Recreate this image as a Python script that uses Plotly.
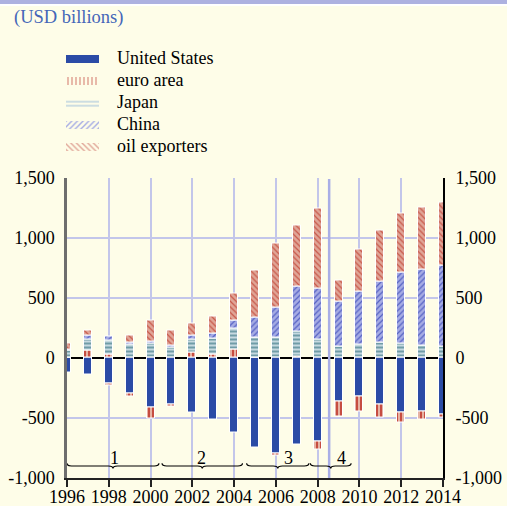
import plotly.graph_objects as go

# ---------------- data ----------------
years = list(range(1996, 2015))
series_names = ["United States", "euro area", "Japan", "China", "oil exporters"]

us = [-123, -138, -215, -298, -415, -392, -457, -515, -623, -743, -798, -721, -698, -362, -318, -388, -454, -446, -471]
euro = [0, 57, 30, -25, -90, -15, 43, 27, 71, 5, -12, 12, -67, -125, -128, -110, -81, -66, -22]
japan = [64, 95, 112, 110, 118, 86, 111, 133, 172, 168, 168, 211, 154, 96, 107, 127, 121, 104, 90]
china = [7, 33, 33, 15, 20, 17, 33, 42, 70, 162, 250, 373, 423, 369, 441, 505, 589, 634, 681]
oil = [49, 42, -15, 57, 172, 127, 98, 144, 222, 394, 534, 502, 666, 175, 354, 431, 488, 510, 522]

x_tickvals = [1996, 1998, 2000, 2002, 2004, 2006, 2008, 2010, 2012, 2014]
x_ticktext = ["1996", "1998", "2000", "2002", "2004", "2006", "2008", "2010", "2012", "2014"]
y_tickvals = [-1000, -500, 0, 500, 1000, 1500]
y_ticktext = ["-1,000", "-500", "0", "500", "1,000", "1,500"]

period_labels = ["1", "2", "3", "4"]
period_start = [1996.0, 2000.55, 2004.6, 2007.65]
period_end = [2000.4, 2004.4, 2007.58, 2009.6]
period_label_x = [1998.25, 2002.45, 2006.6, 2009.15]
crisis_marker = 2008.55

# ---------------- styles ----------------
FONT = "Liberation Serif"
BG = "#FEFDE8"
GRID = "#C3C6EA"
fills = ["#2B4BA6", "#E6B2A2", "#C6D9E0", "#A6ACE4", "#E0A597"]
strokes = ["#2B4BA6", "#BE3328", "#5A8C98", "#5562C4", "#C8584A"]
shapes_p = ["", "|", "-", "/", "\\"]
solid = [0.3, 0.4, 0.4, 0.3, 0.3]
legend_solid = [0.3, 0.45, 0.45, 0.35, 0.35]
series = [us, euro, japan, china, oil]

W, H = 507, 506
ML, MR, MT, MB = 10, 64, 5, 28
PW, PH = W - ML - MR, H - MT - MB


def px(x):
    return (x - ML) / PW


def py(y):
    return (H - MB - y) / PH


fig = go.Figure()

for name, vals, fc, sc, sh, so in zip(series_names, series, fills, strokes, shapes_p, solid):
    fig.add_trace(go.Bar(
        x=years, y=vals, name=name, width=0.38,
        marker=dict(color=fc, line=dict(color="white", width=1),
                    pattern=dict(shape=sh, bgcolor=fc, fgcolor=sc, size=4,
                                 solidity=so, fillmode="replace")),
        showlegend=False, xaxis="x", yaxis="y",
    ))

# legend drawn as a small horizontal-bar subplot
fig.add_trace(go.Bar(
    y=list(range(len(series_names))), x=[1] * len(series_names), orientation="h",
    width=0.32, base=0,
    marker=dict(color=fills, line=dict(width=0),
                pattern=dict(shape=shapes_p, bgcolor=fills, fgcolor=strokes, size=4,
                             solidity=legend_solid, fillmode="replace")),
    showlegend=False, xaxis="x3", yaxis="y3", hoverinfo="skip",
))

annotations = []
for i, name in enumerate(series_names):
    annotations.append(dict(text=name, x=px(115), xref="paper", y=i, yref="y3",
                            xanchor="left", yanchor="middle", showarrow=False,
                            yshift=1, font=dict(family=FONT, size=18, color="black")))

annotations.append(dict(text="(USD billions)", x=px(12), xref="paper", y=py(18), yref="paper",
                        xanchor="left", yanchor="middle", showarrow=False,
                        font=dict(family=FONT, size=18.5, color="#4466B8")))

shapes = []
# top band
shapes.append(dict(type="rect", xref="paper", yref="paper", x0=px(0), x1=px(W), y0=py(4), y1=py(0),
                   fillcolor="#ADB1E0", line=dict(width=0), layer="above"))
shapes.append(dict(type="rect", xref="paper", yref="paper", x0=px(0), x1=px(W), y0=py(6), y1=py(4),
                   fillcolor="white", line=dict(width=0), layer="above"))
# crisis line
shapes.append(dict(type="line", xref="x", yref="y", x0=crisis_marker, x1=crisis_marker,
                   y0=-1000, y1=1488, line=dict(color="#A9AEE6", width=2.5), layer="above"))

# braces
by, dy, dx = -900, 22, 0.22
for lab, x0, x1, lx in zip(period_labels, period_start, period_end, period_label_x):
    xm = (x0 + x1) / 2
    path = (f"M{x0},{by + dy} Q{x0},{by} {x0 + dx},{by} L{xm - dx},{by} "
            f"Q{xm},{by} {xm},{by - dy} Q{xm},{by} {xm + dx},{by} "
            f"L{x1 - dx},{by} Q{x1},{by} {x1},{by + dy}")
    shapes.append(dict(type="path", xref="x", yref="y", path=path,
                       line=dict(color="black", width=1.2), layer="above"))
    annotations.append(dict(text=lab, x=lx, y=-832, xref="x", yref="y", showarrow=False,
                            xanchor="center", yanchor="middle",
                            font=dict(family=FONT, size=18, color="black")))

main_x_dom = [px(67), 1]
main_y_dom = [0, py(177.5)]

fig.update_layout(
    width=W, height=H,
    margin=dict(l=ML, r=MR, t=MT, b=MB, pad=0, autoexpand=False),
    paper_bgcolor=BG, plot_bgcolor=BG,
    barmode="relative", bargap=0,
    font=dict(family=FONT, size=18, color="black"),
    xaxis=dict(domain=main_x_dom, range=[1996, 2014], tickvals=x_tickvals, ticktext=x_ticktext,
               showgrid=True, gridcolor=GRID, gridwidth=1.5, zeroline=False,
               showline=True, linecolor="#222222", linewidth=2,
               ticks="outside", ticklen=7, tickwidth=1.5, tickcolor="#222222",
               ticklabelstandoff=-6,
               tickfont=dict(family=FONT, size=18), anchor="y", automargin=False),
    yaxis=dict(domain=main_y_dom, range=[-1000, 1500], tickvals=y_tickvals, ticktext=y_ticktext,
               showgrid=True, gridcolor=GRID, gridwidth=1.5,
               zeroline=True, zerolinecolor="black", zerolinewidth=2,
               showline=True, linecolor="#6E6E6E", linewidth=2.5,
               ticks="", ticklabelstandoff=6, automargin=False,
               tickfont=dict(family=FONT, size=18), anchor="x"),
    yaxis2=dict(overlaying="y", side="right", range=[-1000, 1500], tickvals=y_tickvals,
                ticktext=y_ticktext, showgrid=False, zeroline=False,
                showline=True, linecolor="black", linewidth=2, ticks="", ticklabelstandoff=7,
                tickfont=dict(family=FONT, size=18), anchor="x", automargin=False),
    xaxis3=dict(domain=[px(66), px(99)], range=[0, 1], visible=False, anchor="y3", automargin=False),
    yaxis3=dict(domain=[py(157.7), py(47.7)], range=[4.5, -0.5], visible=False, anchor="x3",
                automargin=False),
    shapes=shapes, annotations=annotations,
)

# invisible trace to make the right axis render
fig.add_trace(go.Scatter(x=[2000], y=[0], yaxis="y2", xaxis="x", mode="markers",
                         marker=dict(opacity=0), showlegend=False, hoverinfo="skip"))

fig.write_html("out.html", config={"displayModeBar": False},
               post_script="document.body.style.margin='0';document.body.style.padding='0';"
                           "document.body.style.overflow='hidden';")
